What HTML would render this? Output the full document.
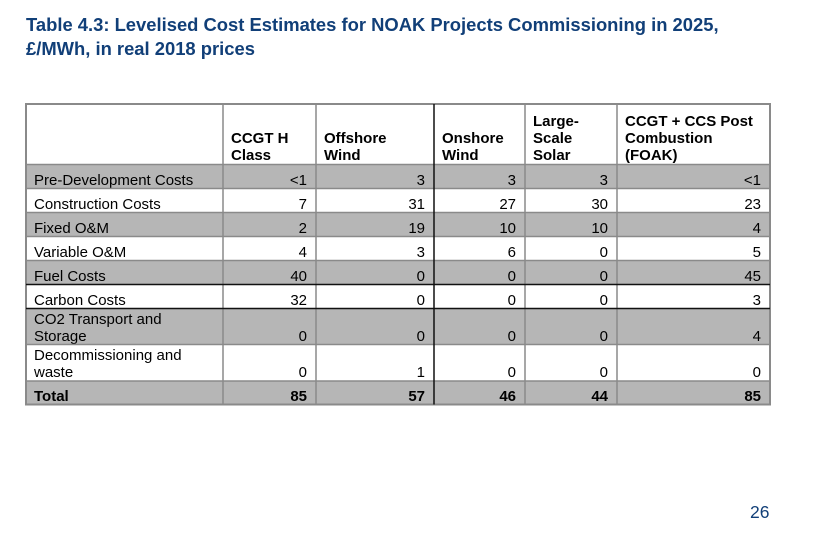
<!DOCTYPE html>
<html>
<head>
<meta charset="utf-8">
<style>
  html,body{margin:0;padding:0;background:#fff;}
  body{width:816px;height:537px;position:relative;overflow:hidden;font-family:"Liberation Sans",Arial,sans-serif;color:#000;}
  .title{position:absolute;left:26px;font-size:18.4px;line-height:24px;font-weight:bold;color:#113f78;white-space:nowrap;}
  .bg{position:absolute;background:#b6b6b6;}
  .c{position:absolute;box-sizing:border-box;display:flex;flex-direction:column;justify-content:flex-end;font-size:15px;line-height:17px;white-space:nowrap;}
  .l{padding-left:8px;align-items:flex-start;}
  .r{padding-right:9px;align-items:flex-end;}
  .h{font-weight:bold;padding-left:8px;padding-bottom:0.5px;}
  .b{font-weight:bold;}
  .pg{position:absolute;left:750px;top:502px;font-size:17.5px;line-height:20px;color:#113f78;}
</style>
</head>
<body>
<div class="title" style="top:13.3px;">Table 4.3: Levelised Cost Estimates for NOAK Projects Commissioning in 2025,</div>
<div class="title" style="top:37.3px;">£/MWh, in real 2018 prices</div>

<!-- shaded rows -->
<div class="bg" style="left:26px;top:164.5px;width:744px;height:24px;"></div>
<div class="bg" style="left:26px;top:212.5px;width:744px;height:24px;"></div>
<div class="bg" style="left:26px;top:260.5px;width:744px;height:24px;"></div>
<div class="bg" style="left:26px;top:308.5px;width:744px;height:36px;"></div>
<div class="bg" style="left:26px;top:381px;width:744px;height:23.5px;"></div>

<!-- header -->
<div class="c h" style="left:223px;top:104px;width:93px;height:60.5px;"><div>CCGT H</div><div>Class</div></div>
<div class="c h" style="left:316px;top:104px;width:118px;height:60.5px;"><div>Offshore</div><div>Wind</div></div>
<div class="c h" style="left:434px;top:104px;width:91px;height:60.5px;"><div>Onshore</div><div>Wind</div></div>
<div class="c h" style="left:525px;top:104px;width:92px;height:60.5px;"><div>Large-</div><div>Scale</div><div>Solar</div></div>
<div class="c h" style="left:617px;top:104px;width:153px;height:60.5px;"><div>CCGT + CCS Post</div><div>Combustion</div><div>(FOAK)</div></div>

<!-- row labels -->
<div class="c l" style="left:26px;top:164.5px;width:197px;height:24px;">Pre-Development Costs</div>
<div class="c l" style="left:26px;top:188.5px;width:197px;height:24px;">Construction Costs</div>
<div class="c l" style="left:26px;top:212.5px;width:197px;height:24px;">Fixed O&amp;M</div>
<div class="c l" style="left:26px;top:236.5px;width:197px;height:24px;">Variable O&amp;M</div>
<div class="c l" style="left:26px;top:260.5px;width:197px;height:24px;">Fuel Costs</div>
<div class="c l" style="left:26px;top:284.5px;width:197px;height:24px;">Carbon Costs</div>
<div class="c l" style="left:26px;top:308.5px;width:197px;height:36px;"><div>CO2 Transport and</div><div>Storage</div></div>
<div class="c l" style="left:26px;top:344.5px;width:197px;height:36.5px;"><div>Decommissioning and</div><div>waste</div></div>
<div class="c l b" style="left:26px;top:381px;width:197px;height:23.5px;">Total</div>

<!-- data: col CCGT H (223-316) -->
<div class="c r" style="left:223px;top:164.5px;width:93px;height:24px;">&lt;1</div>
<div class="c r" style="left:223px;top:188.5px;width:93px;height:24px;">7</div>
<div class="c r" style="left:223px;top:212.5px;width:93px;height:24px;">2</div>
<div class="c r" style="left:223px;top:236.5px;width:93px;height:24px;">4</div>
<div class="c r" style="left:223px;top:260.5px;width:93px;height:24px;">40</div>
<div class="c r" style="left:223px;top:284.5px;width:93px;height:24px;">32</div>
<div class="c r" style="left:223px;top:308.5px;width:93px;height:36px;">0</div>
<div class="c r" style="left:223px;top:344.5px;width:93px;height:36.5px;">0</div>
<div class="c r b" style="left:223px;top:381px;width:93px;height:23.5px;">85</div>

<!-- Offshore (316-434) -->
<div class="c r" style="left:316px;top:164.5px;width:118px;height:24px;">3</div>
<div class="c r" style="left:316px;top:188.5px;width:118px;height:24px;">31</div>
<div class="c r" style="left:316px;top:212.5px;width:118px;height:24px;">19</div>
<div class="c r" style="left:316px;top:236.5px;width:118px;height:24px;">3</div>
<div class="c r" style="left:316px;top:260.5px;width:118px;height:24px;">0</div>
<div class="c r" style="left:316px;top:284.5px;width:118px;height:24px;">0</div>
<div class="c r" style="left:316px;top:308.5px;width:118px;height:36px;">0</div>
<div class="c r" style="left:316px;top:344.5px;width:118px;height:36.5px;">1</div>
<div class="c r b" style="left:316px;top:381px;width:118px;height:23.5px;">57</div>

<!-- Onshore (434-525) -->
<div class="c r" style="left:434px;top:164.5px;width:91px;height:24px;">3</div>
<div class="c r" style="left:434px;top:188.5px;width:91px;height:24px;">27</div>
<div class="c r" style="left:434px;top:212.5px;width:91px;height:24px;">10</div>
<div class="c r" style="left:434px;top:236.5px;width:91px;height:24px;">6</div>
<div class="c r" style="left:434px;top:260.5px;width:91px;height:24px;">0</div>
<div class="c r" style="left:434px;top:284.5px;width:91px;height:24px;">0</div>
<div class="c r" style="left:434px;top:308.5px;width:91px;height:36px;">0</div>
<div class="c r" style="left:434px;top:344.5px;width:91px;height:36.5px;">0</div>
<div class="c r b" style="left:434px;top:381px;width:91px;height:23.5px;">46</div>

<!-- Solar (525-617) -->
<div class="c r" style="left:525px;top:164.5px;width:92px;height:24px;">3</div>
<div class="c r" style="left:525px;top:188.5px;width:92px;height:24px;">30</div>
<div class="c r" style="left:525px;top:212.5px;width:92px;height:24px;">10</div>
<div class="c r" style="left:525px;top:236.5px;width:92px;height:24px;">0</div>
<div class="c r" style="left:525px;top:260.5px;width:92px;height:24px;">0</div>
<div class="c r" style="left:525px;top:284.5px;width:92px;height:24px;">0</div>
<div class="c r" style="left:525px;top:308.5px;width:92px;height:36px;">0</div>
<div class="c r" style="left:525px;top:344.5px;width:92px;height:36.5px;">0</div>
<div class="c r b" style="left:525px;top:381px;width:92px;height:23.5px;">44</div>

<!-- CCS (617-770) -->
<div class="c r" style="left:617px;top:164.5px;width:153px;height:24px;">&lt;1</div>
<div class="c r" style="left:617px;top:188.5px;width:153px;height:24px;">23</div>
<div class="c r" style="left:617px;top:212.5px;width:153px;height:24px;">4</div>
<div class="c r" style="left:617px;top:236.5px;width:153px;height:24px;">5</div>
<div class="c r" style="left:617px;top:260.5px;width:153px;height:24px;">45</div>
<div class="c r" style="left:617px;top:284.5px;width:153px;height:24px;">3</div>
<div class="c r" style="left:617px;top:308.5px;width:153px;height:36px;">4</div>
<div class="c r" style="left:617px;top:344.5px;width:153px;height:36.5px;">0</div>
<div class="c r b" style="left:617px;top:381px;width:153px;height:23.5px;">85</div>

<svg width="816" height="537" style="position:absolute;left:0;top:0;" xmlns="http://www.w3.org/2000/svg">
  <g stroke="#8a8a8a" stroke-width="1.5" fill="none">
    <line x1="26" y1="164.5" x2="770" y2="164.5"/>
    <line x1="26" y1="188.5" x2="770" y2="188.5"/>
    <line x1="26" y1="212.5" x2="770" y2="212.5"/>
    <line x1="26" y1="236.5" x2="770" y2="236.5"/>
    <line x1="26" y1="260.5" x2="770" y2="260.5"/>
    <line x1="26" y1="344.5" x2="770" y2="344.5"/>
    <line x1="26" y1="381" x2="770" y2="381"/>
    <line x1="223" y1="104" x2="223" y2="404.5"/>
    <line x1="316" y1="104" x2="316" y2="404.5"/>
    <line x1="525" y1="104" x2="525" y2="404.5"/>
    <line x1="617" y1="104" x2="617" y2="404.5"/>
    <rect x="26" y="104" width="744" height="300.5" stroke-width="2"/>
  </g>
  <g stroke="#111" stroke-width="1.5">
    <line x1="26" y1="284.5" x2="770" y2="284.5"/>
    <line x1="26" y1="308.5" x2="770" y2="308.5"/>
    <line x1="434" y1="104" x2="434" y2="404.5"/>
  </g>
</svg>

<div class="pg">26</div>
</body>
</html>
